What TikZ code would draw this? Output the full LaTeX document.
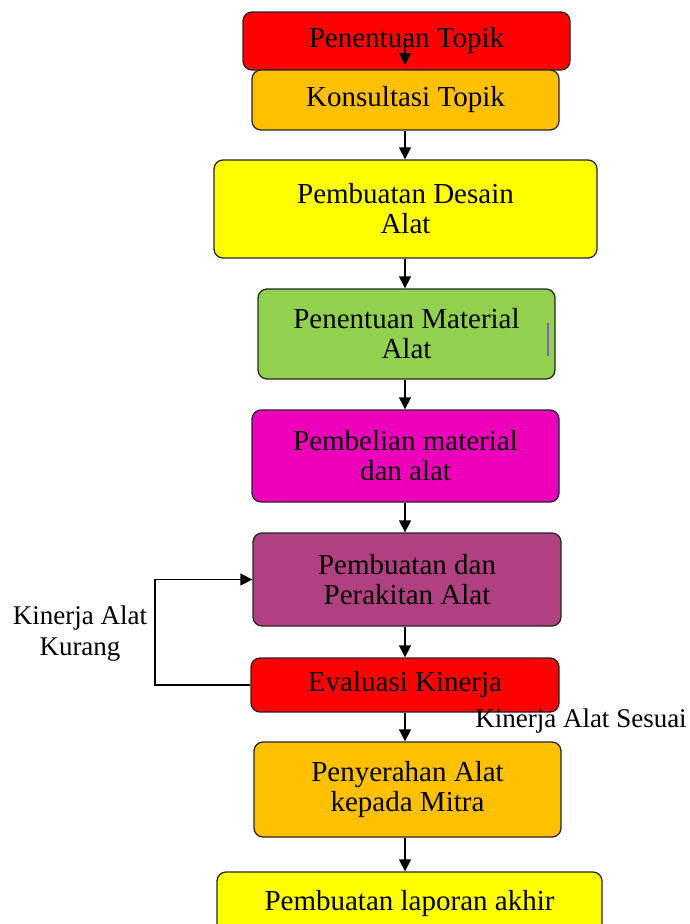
\documentclass[tikz,border=0pt]{standalone}
\usepackage{fontspec}
\setmainfont{Liberation Serif}
\usetikzlibrary{arrows.meta}
\definecolor{cred}{RGB}{255,0,0}
\definecolor{corange}{RGB}{255,192,0}
\definecolor{cyellow}{RGB}{255,255,0}
\definecolor{cgreen}{RGB}{146,208,80}
\definecolor{cmagenta}{RGB}{238,0,187}
\definecolor{cplum}{RGB}{176,64,128}
\definecolor{cpurple}{RGB}{128,96,192}
\begin{document}
\begin{tikzpicture}[x=1pt,y=-1pt,
  box/.style={draw=black!85, line width=1.3pt, rounded corners=9pt, align=center,
    inner sep=0pt, font=\fontsize{29}{30}\selectfont},
  lbl/.style={align=center, inner sep=0pt, font=\fontsize{27}{31}\selectfont},
  arr/.style={-{Triangle[length=12pt,width=12pt]}, line width=1.3pt}]
\useasboundingbox (0,0) rectangle (689,924);
\node[box, fill=cred, minimum width=327pt, minimum height=58pt] (p1) at (406.5,41) {\raisebox{-3pt}{Penentuan Topik}};
\node[box, fill=corange, minimum width=307pt, minimum height=60pt] (p2) at (405.5,100) {\raisebox{-2pt}{Konsultasi Topik}};
\node[box, fill=cyellow, minimum width=383pt, minimum height=98pt] (p3) at (405.5,209) {Pembuatan Desain\\Alat};
\node[box, fill=cgreen, minimum width=297pt, minimum height=90pt] (p4) at (406.5,334) {Penentuan Material\\Alat};
\node[box, fill=cmagenta, minimum width=307pt, minimum height=92pt] (p5) at (405.5,456) {Pembelian material\\dan alat};
\node[box, fill=cplum, minimum width=308pt, minimum height=93pt] (p6) at (407,579.5) {Pembuatan dan\\Perakitan Alat};
\node[box, fill=cred, minimum width=308pt, minimum height=54pt] (p7) at (405,685) {\raisebox{-3pt}{Evaluasi Kinerja}};
\node[box, fill=corange, minimum width=307pt, minimum height=95pt] (p8) at (407.5,789.5) {Penyerahan Alat\\kepada Mitra};
\node[box, fill=cyellow, minimum width=385pt, minimum height=64pt] (p9) at (409.5,904) {Pembuatan laporan akhir};
\draw[cpurple, line width=2pt] (548,323) -- (548,356);
\node[lbl] (kurang) at (80,634) {Kinerja Alat\\Kurang};
\node[lbl] (sesuai) at (581,721) {Kinerja Alat Sesuai};
\coordinate (a1) at (405,38);
\coordinate (a2) at (405,65);
\draw[arr] (a1) -- (a2);
\draw[arr] (p2.south -| 405,0) -- (p3.north -| 405,0);
\draw[arr] (p3.south -| 405,0) -- (p4.north -| 405,0);
\draw[arr] (p4.south -| 405,0) -- (p5.north -| 405,0);
\draw[arr] (p5.south -| 405,0) -- (p6.north -| 405,0);
\draw[arr] (p6.south -| 405,0) -- (p7.north -| 405,0);
\draw[arr] (p7.south -| 405,0) -- (p8.north -| 405,0);
\draw[arr] (p8.south -| 405,0) -- (p9.north -| 405,0);
\draw[arr] (p7.west) -- (155,685) |- (p6.west);
\end{tikzpicture}
\end{document}
